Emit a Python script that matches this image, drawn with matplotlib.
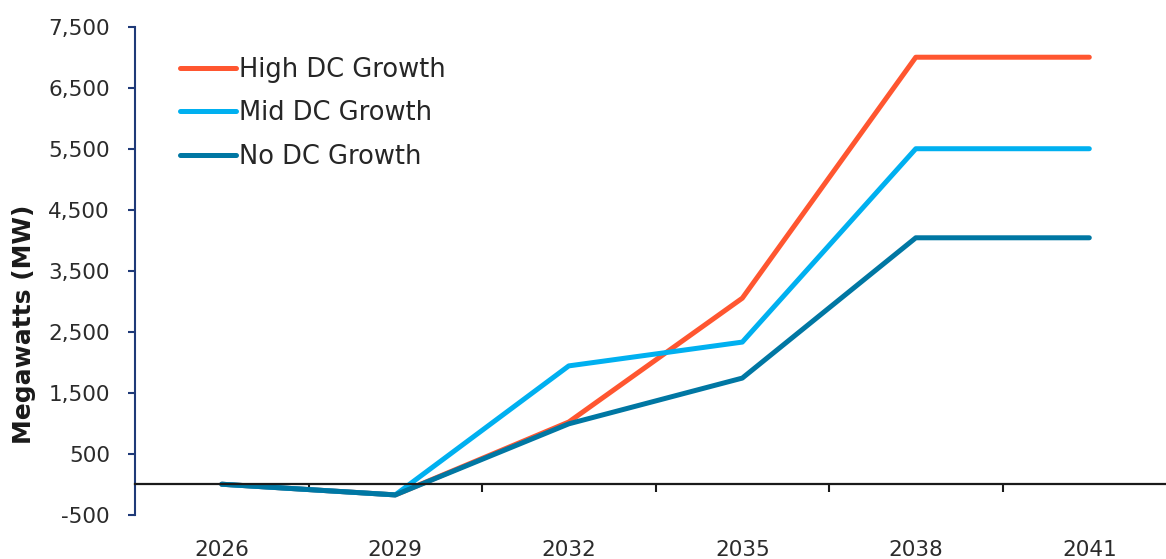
import matplotlib.pyplot as plt
from matplotlib.ticker import FixedLocator, FuncFormatter

years = ["2026", "2029", "2032", "2035", "2038", "2041"]
high_dc = [0, -175, 1020, 3050, 7000, 7000]
mid_dc = [0, -175, 1940, 2330, 5500, 5500]
no_dc = [0, -175, 990, 1740, 4040, 4040]
y_ticks = [-500, 500, 1500, 2500, 3500, 4500, 5500, 6500, 7500]

plt.rcParams["font.family"] = ["DejaVu Sans"]

fig = plt.figure(figsize=(11.66, 5.59), dpi=100)
ax = fig.add_axes([0.1158, 0.0792, 0.8842, 0.873])

x = range(len(years))
ax.plot(x, high_dc, color="#FF5630", lw=3.6, solid_capstyle="round", label="High DC Growth")
ax.plot(x, mid_dc, color="#00B0F0", lw=3.6, solid_capstyle="round", label="Mid DC Growth")
ax.plot(x, no_dc, color="#0077A3", lw=3.6, solid_capstyle="round", label="No DC Growth")

ax.set_xlim(-0.5, 5.442)
ax.set_ylim(-500, 7500)

# y axis
ax.yaxis.set_major_locator(FixedLocator(y_ticks))
ax.yaxis.set_major_formatter(FuncFormatter(lambda v, p: f"{int(v):,}"))
ax.spines["left"].set_color("#1F3A78")
ax.spines["left"].set_linewidth(1.5)
ax.tick_params(axis="y", colors="#1F3A78", length=5, width=1.5, pad=13,
               labelsize=15.5, labelcolor="#2b2b2b")

# x axis sits on zero, labels below the plot
ax.spines["bottom"].set_position(("data", 0))
ax.spines["bottom"].set_color("#1a1a1a")
ax.spines["bottom"].set_linewidth(1.6)
ax.spines["top"].set_visible(False)
ax.spines["right"].set_visible(False)
ax.set_xticks(list(x))
ax.set_xticklabels(years)
ax.set_xticks([0.5, 1.5, 2.5, 3.5, 4.5], minor=True)
ax.tick_params(axis="x", which="major", length=0, pad=40, labelsize=15.5, labelcolor="#2b2b2b")
ax.tick_params(axis="x", which="minor", length=6, width=1.5, color="#1a1a1a")

ax.set_ylabel("Megawatts (MW)", fontsize=18, fontweight="bold", color="#1a1a1a")
ax.yaxis.set_label_coords(-0.096, 0.39)

leg = ax.legend(loc="upper left", bbox_to_anchor=(0.044, 0.938), frameon=False,
                fontsize=18.5, handlelength=2.15, handletextpad=0.15, labelspacing=0.68,
                borderaxespad=0, borderpad=0)
for t in leg.get_texts():
    t.set_color("#262626")

fig.savefig("out.png", dpi=100)
